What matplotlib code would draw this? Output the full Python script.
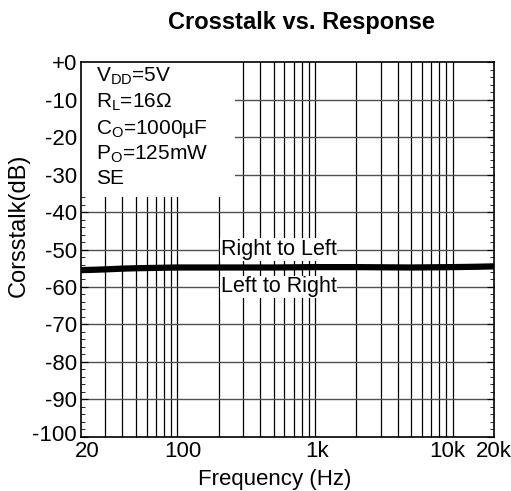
import numpy as np
import matplotlib
matplotlib.use('Agg')
import matplotlib.pyplot as plt
import matplotlib.transforms as mtransforms
from matplotlib.patches import Rectangle
from matplotlib.ticker import FixedLocator, NullFormatter

plt.rcParams['font.family'] = ['Liberation Sans', 'DejaVu Sans']
plt.rcParams['mathtext.fontset'] = 'custom'
plt.rcParams['mathtext.rm'] = 'Liberation Sans'
plt.rcParams['mathtext.it'] = 'Liberation Sans'

# Crosstalk curve (both channels overlap)
freq_hz = [20, 25, 30, 40, 50, 70, 100, 200, 500, 1000, 2000, 5000, 10000, 15000, 20000]
crosstalk_db = [-55.5, -55.4, -55.3, -55.1, -55.0, -54.9, -54.8, -54.8, -54.8, -54.7,
                -54.7, -54.8, -54.7, -54.6, -54.5]

x_ticks = [20, 100, 1000, 10000, 20000]
x_tick_labels = ['20', '100', '1k', '10k', '20k']
y_ticks = list(range(-100, 1, 10))
y_tick_labels = ['+0' if v == 0 else str(v) for v in y_ticks]

conditions = [r'V$_{\mathrm{DD}}$=5V', r'R$_{\mathrm{L}}$=16Ω', r'C$_{\mathrm{O}}$=1000µF',
              r'P$_{\mathrm{O}}$=125mW', 'SE']

fig = plt.figure(figsize=(5.11, 4.91), dpi=100)
ax = fig.add_axes([0.1585, 0.110, 0.8085, 0.7637])

ax.set_xscale('log')
ax.set_xlim(20, 20000)
ax.set_ylim(-100, 0)

# grid: every minor decade step vertically, every 10 dB horizontally
minor_f = [m * 10 ** d for d in range(1, 5) for m in range(1, 10) if 20 < m * 10 ** d < 20000]
for f in minor_f:
    ax.axvline(f, color='black', lw=0.9, zorder=1)
for v in y_ticks[1:-1]:
    ax.axhline(v, color='#505050', lw=1.0, zorder=1)

# white box holding the test conditions
ax.add_patch(Rectangle((0, 0.64), 0.373, 0.36, transform=ax.transAxes,
                       facecolor='white', edgecolor='none', zorder=2))
for i, s in enumerate(conditions):
    ax.text(0.037, 0.99 - i * 0.069, s, transform=ax.transAxes, fontsize=15,
            va='top', ha='left', zorder=3)

ax.plot(freq_hz, crosstalk_db, color='black', lw=4.5, solid_capstyle='round', zorder=4)

for label, y in [('Right to Left', -50), ('Left to Right', -60)]:
    ax.text(545, y, label, fontsize=15.5, ha='center', va='center', zorder=3,
            bbox=dict(facecolor='white', edgecolor='none', pad=0.5))

ax.xaxis.set_major_locator(FixedLocator(x_ticks))
ax.set_xticklabels(x_tick_labels)
ax.xaxis.set_minor_locator(FixedLocator(minor_f))
ax.xaxis.set_minor_formatter(NullFormatter())
ax.set_yticks(y_ticks)
ax.set_yticklabels(y_tick_labels)
ax.set_yticks(np.arange(-100, 1, 2), minor=True)

ax.tick_params(axis='both', which='both', direction='in', labelsize=16, pad=2,
               top=True, right=True)
ax.tick_params(axis='x', which='major', length=0, pad=3)
ax.tick_params(axis='x', which='minor', length=4)
ax.tick_params(axis='y', which='major', length=5, pad=3)
ax.tick_params(axis='y', which='minor', length=3)
for sp in ax.spines.values():
    sp.set_linewidth(1.2)
    sp.set_zorder(5)

# nudge tick labels the way the original sheet has them
x_shift = [6, 6, 2, -5, 0]
for lab, dx in zip(ax.get_xticklabels(), x_shift):
    lab.set_transform(lab.get_transform() + mtransforms.ScaledTranslation(dx / 100, 0, fig.dpi_scale_trans))
ylabs = ax.get_yticklabels()
ylabs[0].set_transform(ylabs[0].get_transform() + mtransforms.ScaledTranslation(0, 4 / 100, fig.dpi_scale_trans))

ax.set_xlabel('Frequency (Hz)', fontsize=16)
ax.xaxis.set_label_coords(0.47, -0.085)
ax.set_ylabel('Corsstalk(dB)', fontsize=17)
ax.yaxis.set_label_coords(-0.125, 0.565)
fig.text(0.589, 0.955, 'Crosstalk vs. Response', fontsize=17, fontweight='bold',
         ha='center', va='center')

fig.savefig('out.png', dpi=100)
